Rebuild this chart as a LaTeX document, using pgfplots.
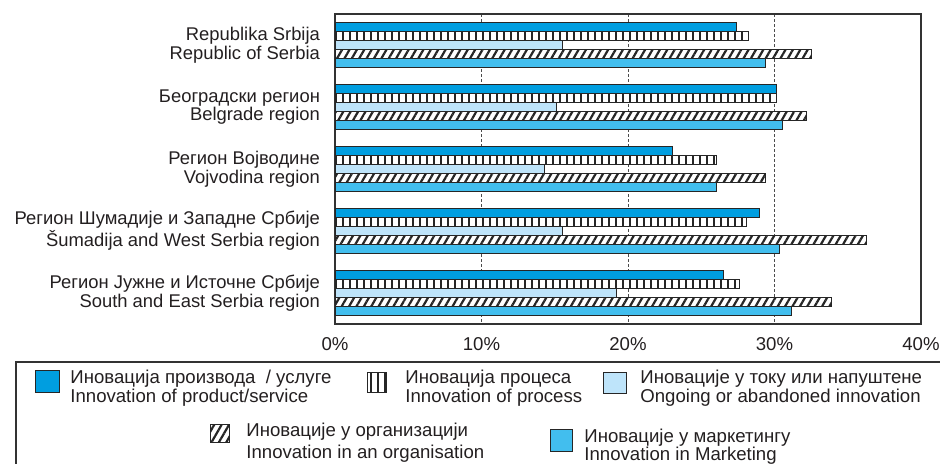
\documentclass[border=0pt]{standalone}
\usepackage{pgfplots}
\pgfplotsset{compat=1.18}
\usepackage{fontspec}
\setmainfont{Liberation Sans}
\usetikzlibrary{patterns.meta}
\definecolor{cprod}{RGB}{0,158,224}
\definecolor{congo}{RGB}{190,228,250}
\definecolor{cmark}{RGB}{66,190,238}
\definecolor{txt}{RGB}{35,31,32}
\tikzset{
  procpat/.style={fill=white, postaction={pattern={Lines[angle=90,distance=3.5pt,line width=0.85pt]}, pattern color=black!85}},
  orgpat/.style={fill=white, postaction={pattern={Lines[angle=60,distance=3.2pt,line width=1.1pt]}, pattern color=black!85}},
}
\begin{document}
\begin{tikzpicture}[x=1pt,y=1pt]
\path[use as bounding box] (0,0) rectangle (470,231.5);
\begin{axis}[
  at={(167.5pt,69.5pt)}, anchor=south west,
  scale only axis, width=293pt, height=155pt,
  xbar, y dir=reverse,
  xmin=0, xmax=40, ymin=-0.5, ymax=4.5,
  bar width=0.14,
  ytick={0,1,2,3,4},
  yticklabels={{Republika Srbija\\Republic of Serbia},{Београдски регион\\Belgrade region},{Регион Војводине\\Vojvodina region},{Регион Шумадије и Западне Србије\\Šumadija and West Serbia region},{Регион Јужне и Источне Србије\\South and East Serbia region}},
  xtick={0,10,20,30,40},
  xticklabel={\pgfmathprintnumber{\tick}\%},
  /pgf/number format/assume math mode=true,
  xticklabel style={font=\fontsize{9.3}{10}\selectfont, text=txt, yshift=-3pt},
  yticklabel style={font=\fontsize{9.2}{9.3}\selectfont, align=right, text=txt, xshift=-4pt},
  major tick length=0,
  xmajorgrids, major grid style={black!70, dash pattern=on 1.5pt off 1pt, line width=0.4pt},
  axis line style={black!80, line width=0.6pt},
  every axis plot/.append style={draw=black!85, line width=0.4pt},
]
\addplot[fill=cprod, bar shift=-0.29] coordinates {(27.4,0) (30.1,1) (23.0,2) (29.0,3) (26.5,4)};
\addplot[procpat, bar shift=-0.145] coordinates {(28.2,0) (30.15,1) (26.0,2) (28.1,3) (27.6,4)};
\addplot[fill=congo, bar shift=0] coordinates {(15.5,0) (15.1,1) (14.3,2) (15.5,3) (19.2,4)};
\addplot[orgpat, bar shift=0.145] coordinates {(32.5,0) (32.2,1) (29.4,2) (36.3,3) (33.9,4)};
\addplot[fill=cmark, bar shift=0.29] coordinates {(29.4,0) (30.55,1) (26.0,2) (30.3,3) (31.15,4)};
\end{axis}
% legend
\draw[black!80, line width=0.6pt] (8,-3) -- (8,50.5) -- (475,50.5);
\tikzset{lt/.style={anchor=base west, inner sep=0pt, text=txt, font=\fontsize{9.3}{10}\selectfont}}
\draw[draw=black!85, line width=0.4pt, fill=cprod] (17.5,35.5) rectangle (29.5,46.5);
\node[lt] at (35,40) {Иновација производа \ / услуге};
\node[lt] at (35,30.5) {Innovation of product/service};
\draw[draw=black!85, line width=0.4pt, procpat] (183.5,35.5) rectangle (193,45.5);
\node[lt] at (202.5,40) {Иновација процеса};
\node[lt] at (202.5,30.5) {Innovation of process};
\draw[draw=black!85, line width=0.4pt, fill=congo] (301.5,35) rectangle (313,45.5);
\node[lt] at (320,40) {Иновације у току или напуштене};
\node[lt] at (320,30.5) {Ongoing or abandoned innovation};
\draw[draw=black!85, line width=0.4pt, orgpat] (105,10.5) rectangle (114.5,19.5);
\node[lt] at (123,13.5) {Иновације у организацији};
\node[lt] at (123,2.5) {Innovation in an organisation};
\draw[draw=black!85, line width=0.4pt, fill=cmark] (275,6) rectangle (286,17);
\node[lt] at (292,10.5) {Иновације у маркетингу};
\node[lt] at (292,1.5) {Innovation in Marketing};
\end{tikzpicture}
\end{document}
